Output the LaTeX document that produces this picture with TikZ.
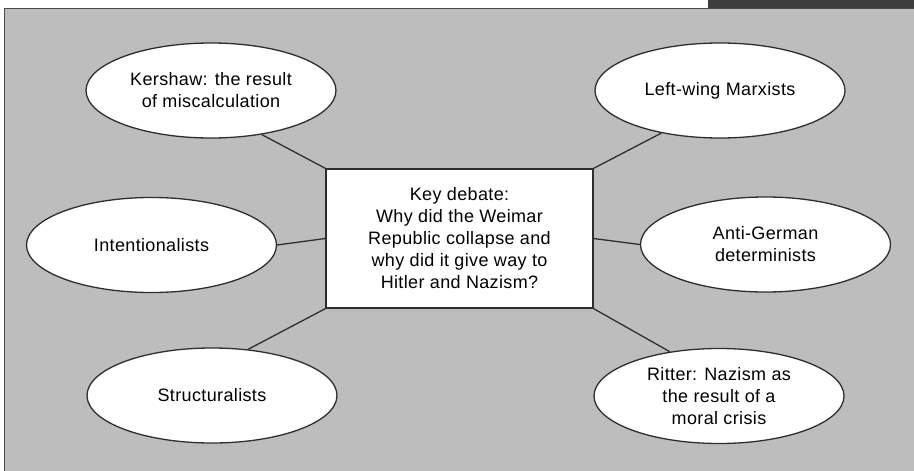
\documentclass[tikz,border=0pt]{standalone}
\usepackage{fontspec}
\setmainfont{Liberation Sans}[LetterSpace=2]
\usetikzlibrary{shapes.geometric}

\definecolor{panel}{HTML}{BDBDBD}
\definecolor{tabgrey}{HTML}{3D3D3D}
\definecolor{inkgrey}{HTML}{2E2E2E}

\tikzset{
  view/.style={ellipse, draw=inkgrey, line width=1.3pt, fill=white,
    minimum width=250pt, minimum height=95pt, inner sep=0pt, align=center,
    font=\fontsize{18}{22}\selectfont},
  debate/.style={rectangle, draw=inkgrey, line width=1.3pt, fill=white,
    minimum width=267pt, minimum height=139pt, align=center,
    font=\fontsize{18}{22}\selectfont},
  link/.style={draw=inkgrey, line width=1.3pt}
}

\begin{document}
\begin{tikzpicture}[x=1pt,y=-1pt]
\useasboundingbox (0,0) rectangle (914,471);

% page strip and grey panel
\fill[white] (0,0) rectangle (914,8);
\fill[tabgrey] (708,0) rectangle (914,8);
\fill[panel] (4,8) rectangle (914,471);
\draw[inkgrey!85, line width=1.2pt] (4.6,471) -- (4.6,8.6) -- (914,8.6);

% centre box
\node[debate] (deb) at (459.5,238.5) {Key debate:\\Why did the Weimar\\Republic collapse and\\why did it give way to\\Hitler and Nazism?};

% the six views
\node[view] (kersh) at (211,90.5) {Kershaw: the result\\of miscalculation};
\node[view] (marx) at (720,90.5) {Left-wing Marxists};
\node[view] (intent) at (151.5,245) {Intentionalists};
\node[view] (antig) at (765.5,244.5) {Anti-German\\determinists};
\node[view] (struct) at (212,395.5) {Structuralists};
\node[view] (ritter) at (719,396) {Ritter: Nazism as\\the result of a\\moral crisis};

% links to the box
\draw[link] (kersh.-41) -- (deb.north west);
\draw[link] (marx.-144) -- (deb.north east);
\draw[link] (intent.east) -- (deb.west);
\draw[link] (deb.east) -- (antig.west);
\draw[link] (struct.52) -- (deb.south west);
\draw[link] (ritter.138) -- (deb.south east);
\end{tikzpicture}
\end{document}
